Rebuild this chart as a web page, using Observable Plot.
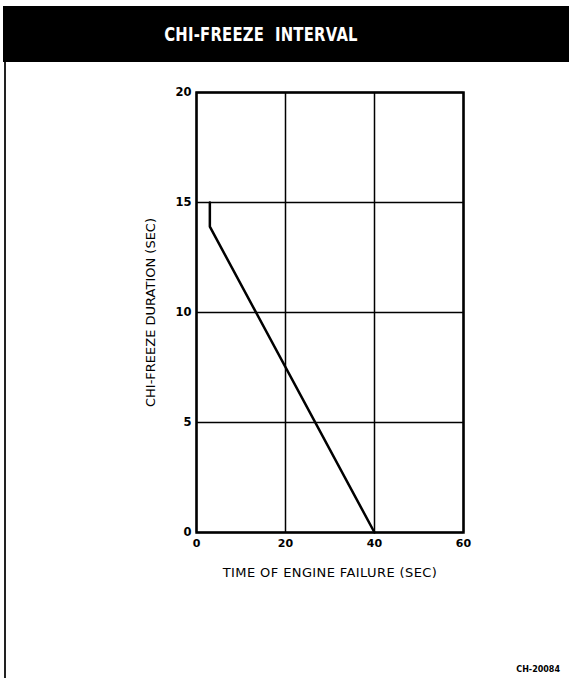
<!DOCTYPE html>
<html>
<head>
<meta charset="utf-8">
<script src="https://cdn.jsdelivr.net/npm/d3@7"></script>
<script src="https://cdn.jsdelivr.net/npm/@observablehq/plot@0.6"></script>
<style>
  html, body { margin: 0; padding: 0; background: #fff; }
  #page { position: relative; width: 569px; height: 678px; overflow: hidden; background: #fff; }
  #header { position: absolute; left: 3px; top: 6px; width: 566px; height: 56px; background: #000; }
  #header span { position: absolute; left: 258px; top: 28px; transform: translate(-50%, -50%) scaleX(0.78);
    white-space: pre; color: #fff; font-family: "DejaVu Sans", sans-serif;
    font-weight: bold; font-size: 19px; letter-spacing: 0.3px; }
  #leftrule { position: absolute; left: 4px; top: 62px; width: 2px; height: 616px; background: #222; }
  #chart { position: absolute; left: 0; top: 0; }
  #caption { position: absolute; right: 9px; top: 665px; font-family: "DejaVu Sans", sans-serif; font-weight: bold;
    font-size: 8px; color: #000; }
</style>
</head>
<body>
<div id="page">
  <div id="chart"></div>
  <div id="header"><span>CHI-FREEZE  INTERVAL</span></div>
  <div id="leftrule"></div>
  <div id="caption">CH-20084</div>
</div>
<script>
// Data
const failureTime = [3, 3, 40];      // time of engine failure (sec)
const freezeDuration = [15, 13.9, 0]; // chi-freeze duration (sec)
const xTicks = [0, 20, 40, 60];
const yTicks = [0, 5, 10, 15, 20];
const xLabel = "TIME OF ENGINE FAILURE (SEC)";
const yLabel = "CHI-FREEZE DURATION (SEC)";

const points = failureTime.map((t, i) => ({t, d: freezeDuration[i]}));

const chart = Plot.plot({
  width: 569,
  height: 678,
  marginLeft: 196,
  marginRight: 106,
  marginTop: 92,
  marginBottom: 146,
  style: {fontFamily: "DejaVu Sans, sans-serif", background: "transparent", color: "#000"},
  x: {domain: [0, 60]},
  y: {domain: [0, 20]},
  marks: [
    Plot.gridX(xTicks, {stroke: "#000", strokeOpacity: 1, strokeWidth: 1.5}),
    Plot.gridY(yTicks, {stroke: "#000", strokeOpacity: 1, strokeWidth: 1.5}),
    Plot.frame({stroke: "#000", strokeWidth: 2.5}),
    Plot.line(points, {x: "t", y: "d", stroke: "#000", strokeWidth: 2.5, strokeLinejoin: "miter"}),
    Plot.axisX(xTicks, {tickSize: 0, tickPadding: 7, fontSize: 11, fontWeight: "bold",
      label: xLabel, labelArrow: "none", labelAnchor: "center", labelOffset: 44}),
    Plot.axisY(yTicks, {tickSize: 0, tickPadding: 5, fontSize: 11.5, fontWeight: "bold",
      label: yLabel, labelArrow: "none", labelAnchor: "center", labelOffset: 51})
  ]
});
document.getElementById("chart").appendChild(chart);

// axis titles: regular weight, slightly larger; strip any arrow
chart.querySelectorAll("g[aria-label='x-axis label'] text, g[aria-label='y-axis label'] text").forEach(t => {
  t.textContent = t.textContent.replace(/\s*[→↑←↓]\s*/g, "").trim();
  t.setAttribute("font-size", "13");
  t.setAttribute("font-weight", "normal");
});
chart.querySelectorAll("g[aria-label='x-axis label'] text").forEach(t => {
  t.setAttribute("letter-spacing", "0.4");
});
</script>
</body>
</html>
